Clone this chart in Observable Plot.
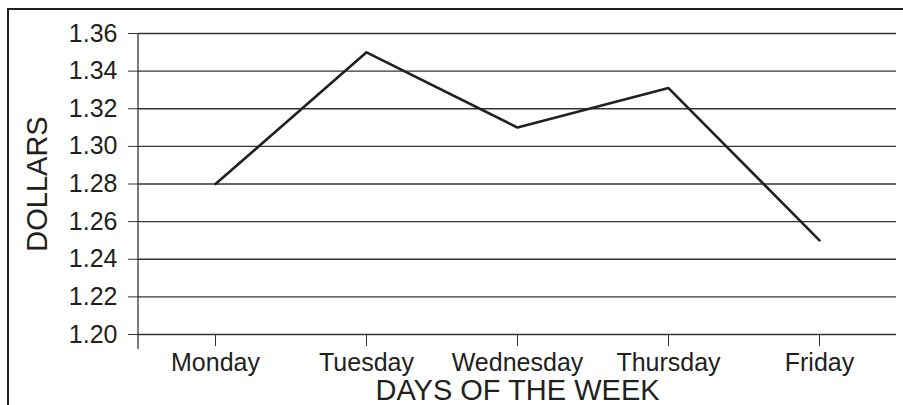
<!DOCTYPE html>
<html><head><meta charset="utf-8">
<script src="https://cdn.jsdelivr.net/npm/d3@7"></script>
<script src="https://cdn.jsdelivr.net/npm/@observablehq/plot@0.6"></script>
<style>
body{margin:0;background:#fff;overflow:hidden;}
#chart{position:absolute;left:0;top:0;}
#frame{position:absolute;left:7px;top:8px;width:2000px;height:2000px;border:2.5px solid #231f20;pointer-events:none;}
</style></head><body><div id="chart"></div><div id="frame"></div>
<script>
const days = ["Monday", "Tuesday", "Wednesday", "Thursday", "Friday"];
const prices = [1.28, 1.35, 1.31, 1.331, 1.25];
const yTicks = [1.20, 1.22, 1.24, 1.26, 1.28, 1.30, 1.32, 1.34, 1.36];
const yLabel = "DOLLARS";
const xLabel = "DAYS OF THE WEEK";

const data = days.map((d, i) => ({day: d, price: prices[i]}));
const ink = "#231f20";

function yAxisLine(index, scales, values, dims) {
  const x = dims.marginLeft;
  const g = d3.create("svg:g");
  g.append("line")
    .attr("x1", x).attr("x2", x)
    .attr("y1", scales.y(yTicks[yTicks.length - 1]))
    .attr("y2", scales.y(yTicks[0]) + 15)
    .attr("stroke", "#333").attr("stroke-width", 1.3);
  return g.node();
}

const chart = Plot.plot({
  width: 903,
  height: 405,
  marginLeft: 138,
  marginRight: 7,
  marginTop: 33,
  marginBottom: 71,
  style: {background: "transparent", fontFamily: "'Liberation Sans', Arial, sans-serif", fontSize: "25px", color: ink},
  x: {type: "point", domain: days, padding: 0.5, label: null},
  y: {domain: [yTicks[0], yTicks[yTicks.length - 1]], label: null},
  marks: [
    Plot.ruleY(yTicks, {stroke: "#333", strokeWidth: 1.3}),
    Plot.axisY(yTicks, {tickSize: 10, tickPadding: 11, stroke: "#333", fill: ink, fontSize: 25, tickFormat: d => d.toFixed(2), label: null}),
    Plot.axisX({tickSize: 12, tickPadding: 7, stroke: "#333", fill: ink, fontSize: 25, label: null}),
    yAxisLine,
    Plot.line(data, {x: "day", y: "price", stroke: ink, strokeWidth: 2.6}),
    Plot.text([xLabel], {frameAnchor: "bottom", lineAnchor: "middle", dy: 56, fontSize: 29, fill: ink}),
    Plot.text([yLabel], {frameAnchor: "left", textAnchor: "middle", lineAnchor: "middle", dx: -101, rotate: -90, fontSize: 29, fill: ink})
  ]
});
document.getElementById("chart").appendChild(chart);
</script></body></html>
